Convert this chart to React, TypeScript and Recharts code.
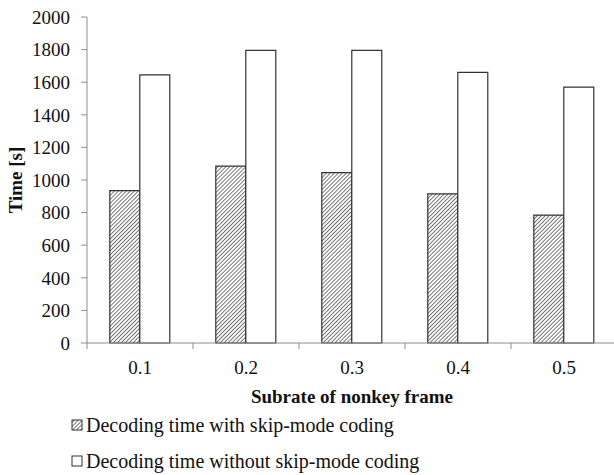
import React from 'react';
import { BarChart, Bar, XAxis, YAxis } from 'recharts';

const subrates = ['0.1', '0.2', '0.3', '0.4', '0.5'];
const withSkipMode = [935, 1085, 1045, 915, 785];
const withoutSkipMode = [1645, 1795, 1795, 1660, 1570];
const timeTicks = [0, 200, 400, 600, 800, 1000, 1200, 1400, 1600, 1800, 2000];

const data = subrates.map((s, i) => ({
  subrate: s,
  withSkip: withSkipMode[i],
  withoutSkip: withoutSkipMode[i],
}));

const FONT = '"Liberation Serif", "Times New Roman", serif';
const AXIS_GRAY = '#8c8c8c';
const BAR_STROKE = '#333333';

const CHART_W = 620;
const CHART_H = 475;
const Y_AXIS_W = 87;
const MARGIN = { top: 17, right: 3, left: 0, bottom: 102 };
const X_AXIS_H = 30;
const PLOT_W = CHART_W - MARGIN.right - MARGIN.left - Y_AXIS_W;
const AXIS_Y = CHART_H - MARGIN.bottom - X_AXIS_H;
const BAND = PLOT_W / subrates.length;

// category labels, with the small tick marks sitting between categories
function SubrateTick(props: any) {
  const { x, payload, index } = props;
  const left = x - BAND / 2;
  const right = x + BAND / 2;
  return (
    <g>
      <line x1={left} x2={left} y1={AXIS_Y} y2={AXIS_Y + 6} stroke={AXIS_GRAY} />
      {index === subrates.length - 1 && (
        <line x1={right} x2={right} y1={AXIS_Y} y2={AXIS_Y + 6} stroke={AXIS_GRAY} />
      )}
      <text x={x} y={AXIS_Y + 24} textAnchor="middle" dominantBaseline="central"
        fontFamily={FONT} fontSize={19} fill="#111">
        {payload.value}
      </text>
    </g>
  );
}

function HatchDefs({ id }: { id: string }) {
  return (
    <defs>
      <pattern id={id} width="2.8" height="2.8" patternUnits="userSpaceOnUse"
        patternTransform="rotate(45)">
        <rect width="2.8" height="2.8" fill="#ffffff" />
        <line x1="0" y1="0" x2="0" y2="2.8" stroke="#3c3c3c" strokeWidth="1.4" />
      </pattern>
    </defs>
  );
}

function LegendRow({ hatched, text }: { hatched: boolean; text: string }) {
  return (
    <div style={{ display: 'flex', alignItems: 'center', height: 22 }}>
      <svg width={12} height={12} style={{ marginRight: 3 }}>
        {hatched && <HatchDefs id="legendHatch" />}
        <rect x={1} y={1} width={10} height={10}
          fill={hatched ? 'url(#legendHatch)' : '#fff'} stroke={BAR_STROKE} strokeWidth={1} />
      </svg>
      <span>{text}</span>
    </div>
  );
}

export default function App() {
  return (
    <div style={{ position: 'absolute', left: 0, top: 0, width: 614, height: 475,
      overflow: 'hidden', background: '#fff' }}>
      <BarChart width={CHART_W} height={CHART_H} data={data} margin={MARGIN}
        barCategoryGap="21.5%" barGap={0}>
        <HatchDefs id="barHatch" />
        <XAxis dataKey="subrate" height={X_AXIS_H} stroke={AXIS_GRAY}
          tickLine={false} tick={<SubrateTick />} interval={0}
          label={{
            content: () => (
              <text x={Y_AXIS_W + PLOT_W / 2} y={396} textAnchor="middle"
                dominantBaseline="central" fontFamily={FONT} fontSize={19}
                fontWeight="bold" fill="#111">
                Subrate of nonkey frame
              </text>
            ),
          }} />
        <YAxis width={Y_AXIS_W} domain={[0, 2000]} ticks={timeTicks} interval={0}
          stroke={AXIS_GRAY} tickSize={6} tickMargin={11}
          tick={{ fill: '#111', fontFamily: FONT, fontSize: 19 }}
          label={{
            content: () => (
              <text x={15} y={(MARGIN.top + AXIS_Y) / 2} textAnchor="middle"
                dominantBaseline="central" fontFamily={FONT} fontSize={19}
                fontWeight="bold" fill="#111"
                transform={`rotate(-90, 15, ${(MARGIN.top + AXIS_Y) / 2})`}>
                Time [s]
              </text>
            ),
          }} />
        <Bar dataKey="withSkip" fill="url(#barHatch)" stroke={BAR_STROKE}
          strokeWidth={1.2} isAnimationActive={false} />
        <Bar dataKey="withoutSkip" fill="#ffffff" stroke={BAR_STROKE}
          strokeWidth={1.2} isAnimationActive={false} />
      </BarChart>
      <div style={{ position: 'absolute', left: 71, top: 414, fontFamily: FONT,
        fontSize: 20, color: '#111', lineHeight: '22px' }}>
        <LegendRow hatched text="Decoding time with skip-mode coding" />
        <div style={{ height: 14 }} />
        <LegendRow hatched={false} text="Decoding time without skip-mode coding" />
      </div>
    </div>
  );
}
